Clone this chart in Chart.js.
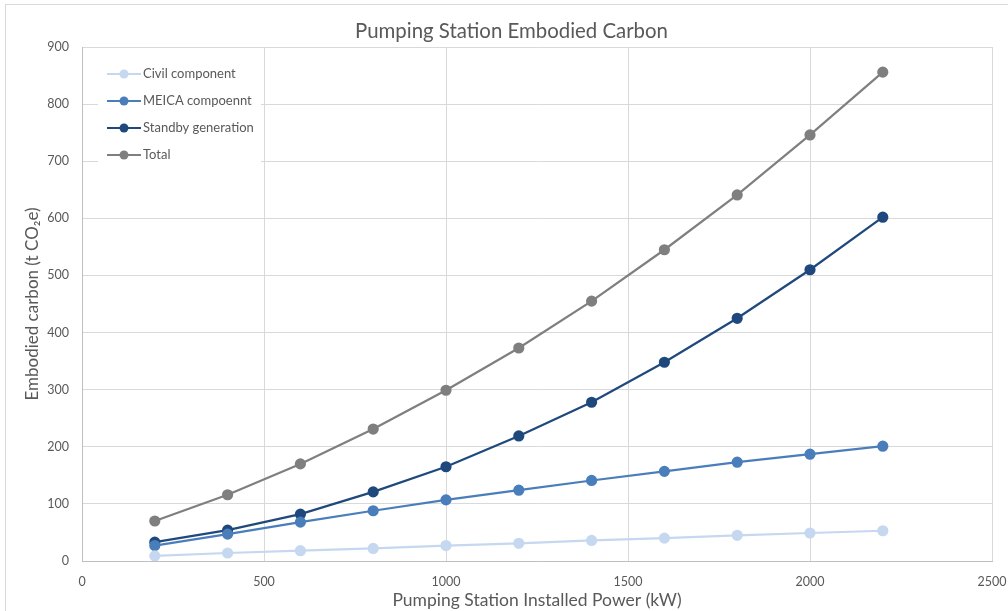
<!DOCTYPE html>
<html>
<head>
<meta charset="utf-8">
<title>Pumping Station Embodied Carbon</title>
<script src="https://cdn.jsdelivr.net/npm/chart.js@4/dist/chart.umd.min.js"></script>
<style>
  html, body { margin: 0; padding: 0; background: #ffffff; }
  #wrap { width: 1008px; height: 611px; position: relative; }
</style>
</head>
<body>
<div id="wrap"><canvas id="chart" width="1008" height="611"></canvas></div>
<script>
// Installed power (kW) of each pumping station size
const power = [200, 400, 600, 800, 1000, 1200, 1400, 1600, 1800, 2000, 2200];

// Embodied carbon (t CO2e) by component
const civil   = [9, 14, 18, 22, 27, 31, 36, 40, 45, 49, 53];
const meica   = [27, 47, 68, 88, 107, 124, 141, 157, 173, 187, 201];
const standby = [33, 54, 82, 121, 165, 219, 278, 348, 425, 510, 602];
const total   = [70, 116, 170, 231, 299, 373, 455, 545, 641, 746, 856];

const seriesNames = ['Civil component', 'MEICA compoennt', 'Standby generation', 'Total'];
const seriesColors = ['#C5D8F0', '#4A7EBB', '#1F497D', '#7F7F7F'];

const chartTitle = 'Pumping Station Embodied Carbon';
const xTitle = 'Pumping Station Installed Power (kW)';
const yTitle = 'Embodied carbon (t CO\u2082e)';

const FONT = 'Lato, "Open Sans", sans-serif';
const TEXT = '#595959';

function toPoints(vals) {
  return power.map((p, i) => ({ x: p, y: vals[i] }));
}

const seriesValues = [civil, meica, standby, total];
const datasets = seriesValues.map((vals, i) => ({
  label: seriesNames[i],
  data: toPoints(vals),
  borderColor: seriesColors[i],
  backgroundColor: seriesColors[i],
  pointBackgroundColor: seriesColors[i],
  pointBorderColor: seriesColors[i],
  borderWidth: 2.2,
  pointRadius: 4.5,
  pointHoverRadius: 4.5,
  tension: 0
}));

// Outer frame and centered title
const framePlugin = {
  id: 'frame',
  beforeDraw(chart) {
    const ctx = chart.ctx;
    ctx.save();
    ctx.fillStyle = '#ffffff';
    ctx.fillRect(0, 0, chart.width, chart.height);
    ctx.strokeStyle = '#D9D9D9';
    ctx.lineWidth = 1;
    ctx.strokeRect(5.5, 4.5, chart.width + 10, chart.height + 10);
    ctx.restore();
  },
  afterDraw(chart) {
    const ctx = chart.ctx;
    ctx.save();
    ctx.fillStyle = TEXT;
    ctx.font = '20.4px ' + FONT;
    ctx.textAlign = 'center';
    ctx.textBaseline = 'middle';
    ctx.fillText(chartTitle, chart.width / 2 + 7.5, 31);
    ctx.restore();
  }
};

// Legend box in the upper left of the plot area
const insetLegend = {
  id: 'insetLegend',
  afterDatasetsDraw(chart) {
    const ctx = chart.ctx;
    const area = chart.chartArea;
    const x0 = area.left + 16;
    const y0 = area.top + 14;
    const rowH = 27;
    ctx.save();
    ctx.fillStyle = '#ffffff';
    ctx.fillRect(x0, y0, 163, rowH * chart.data.datasets.length + 2);
    chart.data.datasets.forEach((ds, i) => {
      const cy = y0 + 13 + i * rowH;
      ctx.strokeStyle = ds.borderColor;
      ctx.lineWidth = 2.2;
      ctx.beginPath();
      ctx.moveTo(x0 + 9, cy);
      ctx.lineTo(x0 + 43, cy);
      ctx.stroke();
      ctx.fillStyle = ds.borderColor;
      ctx.beginPath();
      ctx.arc(x0 + 26, cy, 4.5, 0, Math.PI * 2);
      ctx.fill();
      ctx.fillStyle = TEXT;
      ctx.font = '13px ' + FONT;
      ctx.textAlign = 'left';
      ctx.textBaseline = 'middle';
      ctx.fillText(ds.label, x0 + 45, cy);
    });
    ctx.restore();
  }
};

new Chart(document.getElementById('chart'), {
  type: 'line',
  data: { datasets },
  options: {
    responsive: false,
    animation: false,
    layout: { padding: { top: 47, right: 16, left: 0, bottom: 0 } },
    plugins: {
      legend: { display: false },
      title: { display: false },
      tooltip: { enabled: false }
    },
    scales: {
      x: {
        type: 'linear',
        min: 0,
        max: 2500,
        ticks: {
          stepSize: 500, color: TEXT, font: { family: FONT, size: 12.5 }, padding: 13, maxRotation: 0,
          callback: (v) => String(v)
        },
        grid: { color: '#D9D9D9', drawTicks: false, lineWidth: 1 },
        border: { color: '#BFBFBF' },
        title: { display: true, text: xTitle, color: TEXT, font: { family: FONT, size: 17.5 }, padding: { top: 2, bottom: 0 } },
        afterFit(scale) {
          scale.height = 50;
          scale.paddingLeft = 0;
          scale.paddingRight = 0;
        }
      },
      y: {
        min: 0,
        max: 900,
        ticks: { stepSize: 100, color: TEXT, font: { family: FONT, size: 12.5 }, padding: 13 },
        grid: { color: '#D9D9D9', drawTicks: false, lineWidth: 1 },
        border: { color: '#BFBFBF' },
        title: { display: true, text: yTitle, color: TEXT, font: { family: FONT, size: 17 }, padding: { top: 22, bottom: 0 } },
        afterFit(scale) { scale.width = 82; }
      }
    }
  },
  plugins: [framePlugin, insetLegend]
});
</script>
</body>
</html>
